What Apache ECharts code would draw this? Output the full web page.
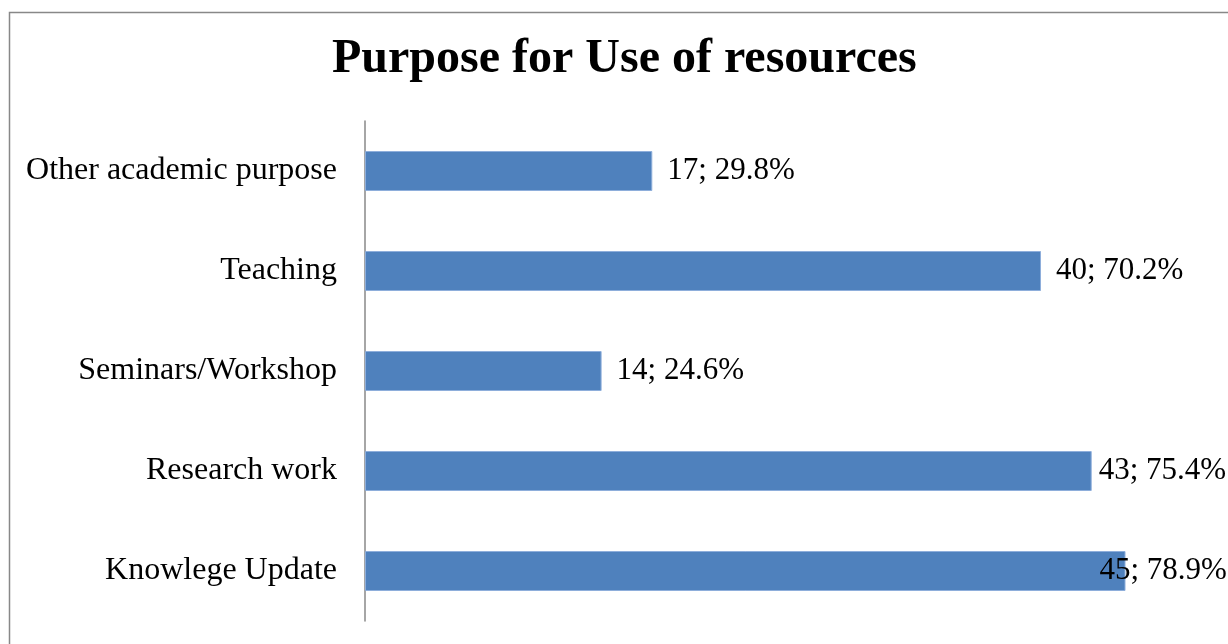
<!DOCTYPE html>
<html>
<head>
<meta charset="utf-8">
<script src="https://cdn.jsdelivr.net/npm/echarts@6/dist/echarts.min.js"></script>
<style>
html,body{margin:0;padding:0;background:#fff;}
#chart{width:1228px;height:644px;}
</style>
</head>
<body>
<div id="chart"></div>
<script>
const categories = ["Knowlege Update", "Research work", "Seminars/Workshop", "Teaching", "Other academic purpose"];
const counts = [45, 43, 14, 40, 17];
const percents = [78.9, 75.4, 24.6, 70.2, 29.8];
const titleText = "Purpose for Use of resources";

const chart = echarts.init(document.getElementById('chart'));
const labelShift = { 0: -41, 1: -8 };
const seriesData = counts.map((v, i) => {
  const item = { value: v };
  if (labelShift[i] !== undefined) item.label = { offset: [labelShift[i], 0] };
  return item;
});
chart.setOption({
  animation: false,
  backgroundColor: '#fff',
  title: {
    text: titleText,
    left: 327,
    top: 31,
    textStyle: { fontFamily: 'Liberation Serif', fontWeight: 'bold', fontSize: 48, color: '#000' }
  },
  graphic: [{
    type: 'rect',
    shape: { x: 9.5, y: 12.5, width: 1400, height: 800 },
    style: { fill: 'none', stroke: '#888', lineWidth: 1.5 },
    silent: true
  }],
  grid: { left: 365, top: 121, height: 500, width: 845, containLabel: false },
  xAxis: { type: 'value', min: 0, max: 50, show: false },
  yAxis: {
    type: 'category',
    data: categories,
    axisLine: { show: true, lineStyle: { color: '#888', width: 1.5 } },
    axisTick: { show: false },
    axisLabel: { margin: 28, fontFamily: 'Liberation Serif', fontSize: 32, color: '#000' }
  },
  series: [{
    type: 'bar',
    data: seriesData,
    barWidth: '40%',
    itemStyle: { color: '#4F81BD', borderColor: '#8EAEDB', borderWidth: 1 },
    label: {
      show: true,
      position: 'right',
      distance: 15,
      fontFamily: 'Liberation Serif',
      fontSize: 31,
      color: '#000',
      formatter: p => counts[p.dataIndex] + '; ' + percents[p.dataIndex].toFixed(1) + '%'
    }
  }]
});
</script>
</body>
</html>
